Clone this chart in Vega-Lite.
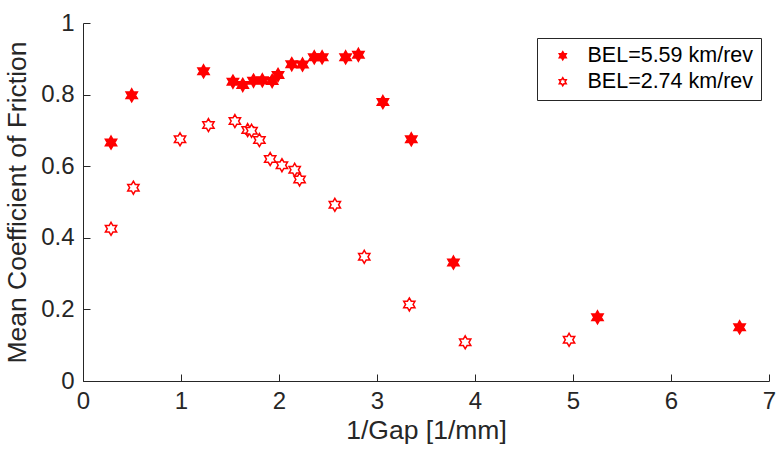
{
  "$schema": "https://vega.github.io/schema/vega-lite/v6.json",
  "width": 686,
  "height": 358,
  "autosize": {"type": "none"},
  "padding": {"left": 83, "top": 23, "right": 9, "bottom": 68},
  "background": "white",
  "config": {
    "view": {"stroke": null},
    "font": "Liberation Sans",
    "axis": {
      "domainColor": "#262626",
      "domainWidth": 1,
      "tickColor": "#262626",
      "tickWidth": 1,
      "tickSize": -7,
      "labelColor": "#262626",
      "titleColor": "#262626",
      "labelFont": "Liberation Sans",
      "titleFont": "Liberation Sans",
      "labelFontSize": 24,
      "titleFontSize": 26.5,
      "titleFontWeight": "normal",
      "grid": false
    }
  },
  "data": {
    "values": [
      {"gap_inv": 0.286, "mu": 0.666, "series": "BEL=5.59 km/rev"},
      {"gap_inv": 0.497, "mu": 0.798, "series": "BEL=5.59 km/rev"},
      {"gap_inv": 1.23, "mu": 0.865, "series": "BEL=5.59 km/rev"},
      {"gap_inv": 1.53, "mu": 0.836, "series": "BEL=5.59 km/rev"},
      {"gap_inv": 1.63, "mu": 0.827, "series": "BEL=5.59 km/rev"},
      {"gap_inv": 1.74, "mu": 0.839, "series": "BEL=5.59 km/rev"},
      {"gap_inv": 1.83, "mu": 0.84, "series": "BEL=5.59 km/rev"},
      {"gap_inv": 1.93, "mu": 0.838, "series": "BEL=5.59 km/rev"},
      {"gap_inv": 1.99, "mu": 0.855, "series": "BEL=5.59 km/rev"},
      {"gap_inv": 2.13, "mu": 0.885, "series": "BEL=5.59 km/rev"},
      {"gap_inv": 2.24, "mu": 0.884, "series": "BEL=5.59 km/rev"},
      {"gap_inv": 2.36, "mu": 0.904, "series": "BEL=5.59 km/rev"},
      {"gap_inv": 2.44, "mu": 0.904, "series": "BEL=5.59 km/rev"},
      {"gap_inv": 2.68, "mu": 0.904, "series": "BEL=5.59 km/rev"},
      {"gap_inv": 2.81, "mu": 0.911, "series": "BEL=5.59 km/rev"},
      {"gap_inv": 3.06, "mu": 0.779, "series": "BEL=5.59 km/rev"},
      {"gap_inv": 3.35, "mu": 0.675, "series": "BEL=5.59 km/rev"},
      {"gap_inv": 3.78, "mu": 0.331, "series": "BEL=5.59 km/rev"},
      {"gap_inv": 5.25, "mu": 0.178, "series": "BEL=5.59 km/rev"},
      {"gap_inv": 6.70, "mu": 0.150, "series": "BEL=5.59 km/rev"},
      {"gap_inv": 0.286, "mu": 0.425, "series": "BEL=2.74 km/rev"},
      {"gap_inv": 0.514, "mu": 0.540, "series": "BEL=2.74 km/rev"},
      {"gap_inv": 0.99, "mu": 0.675, "series": "BEL=2.74 km/rev"},
      {"gap_inv": 1.28, "mu": 0.715, "series": "BEL=2.74 km/rev"},
      {"gap_inv": 1.55, "mu": 0.726, "series": "BEL=2.74 km/rev"},
      {"gap_inv": 1.68, "mu": 0.701, "series": "BEL=2.74 km/rev"},
      {"gap_inv": 1.72, "mu": 0.699, "series": "BEL=2.74 km/rev"},
      {"gap_inv": 1.80, "mu": 0.673, "series": "BEL=2.74 km/rev"},
      {"gap_inv": 1.91, "mu": 0.620, "series": "BEL=2.74 km/rev"},
      {"gap_inv": 2.03, "mu": 0.603, "series": "BEL=2.74 km/rev"},
      {"gap_inv": 2.16, "mu": 0.590, "series": "BEL=2.74 km/rev"},
      {"gap_inv": 2.21, "mu": 0.563, "series": "BEL=2.74 km/rev"},
      {"gap_inv": 2.57, "mu": 0.492, "series": "BEL=2.74 km/rev"},
      {"gap_inv": 2.87, "mu": 0.347, "series": "BEL=2.74 km/rev"},
      {"gap_inv": 3.33, "mu": 0.214, "series": "BEL=2.74 km/rev"},
      {"gap_inv": 3.90, "mu": 0.108, "series": "BEL=2.74 km/rev"},
      {"gap_inv": 4.96, "mu": 0.115, "series": "BEL=2.74 km/rev"}
    ]
  },
  "mark": {
    "type": "point",
    "shape": "M0,-1L0.289,-0.5L0.866,-0.5L0.577,0L0.866,0.5L0.289,0.5L0,1L-0.289,0.5L-0.866,0.5L-0.577,0L-0.866,-0.5L-0.289,-0.5Z",
    "size": 169,
    "stroke": "#ff0000",
    "strokeWidth": 1.5,
    "opacity": 1,
    "filled": true
  },
  "encoding": {
    "x": {
      "field": "gap_inv",
      "type": "quantitative",
      "scale": {"domain": [0, 7], "nice": false, "zero": false},
      "axis": {"title": "1/Gap [1/mm]", "values": [0, 1, 2, 3, 4, 5, 6, 7], "labelPadding": 15, "titlePadding": 4, "labelFlush": false}
    },
    "y": {
      "field": "mu",
      "type": "quantitative",
      "scale": {"domain": [0, 1], "nice": false},
      "axis": {"title": "Mean Coefficient of Friction", "values": [0, 0.2, 0.4, 0.6, 0.8, 1], "format": "~g", "labelPadding": 16, "titlePadding": 9, "labelFlush": false}
    },
    "fill": {
      "field": "series",
      "type": "nominal",
      "scale": {"domain": ["BEL=5.59 km/rev", "BEL=2.74 km/rev"], "range": ["#ff0000", "#ffffff"]},
      "legend": {
        "title": null,
        "orient": "none",
        "legendX": 454,
        "legendY": 15,
        "padding": 7,
        "strokeColor": "#262626",
        "fillColor": "white",
        "symbolSize": 64,
        "symbolStrokeColor": "#ff0000",
        "symbolStrokeWidth": 1.5,
        "labelFontSize": 21.5,
        "labelLimit": 400,
        "labelColor": "#000000",
        "labelFont": "Liberation Sans",
        "rowPadding": 3,
        "labelOffset": 14,
        "symbolOffset": 8
      }
    }
  }
}
